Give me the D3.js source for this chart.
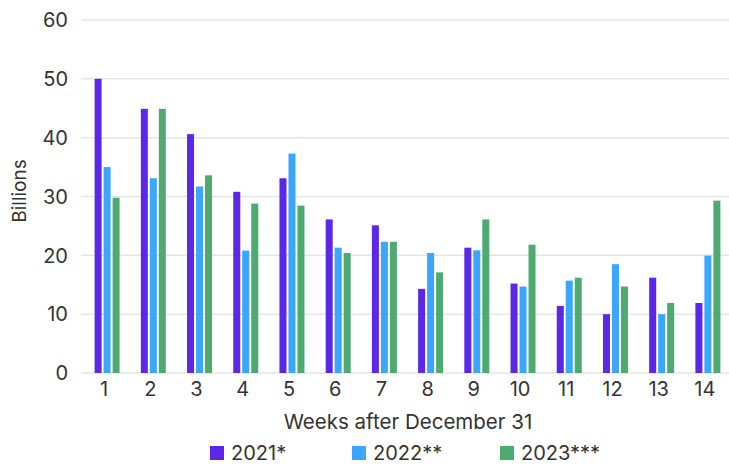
<!DOCTYPE html>
<html>
  <head>
    <title></title>
    <style>
      body, html{
        margin: 0;
        width: 100%;
        height: 100%;
        background: #fff;
      }
      text{
        font-family: Inter, Roboto, sans-serif;
        fill: #333;
      }
      .grid line{
        stroke: #e5e5e5;
        stroke-width: 1.5;
      }
    </style>
  </head>
  <body>
    <svg id="chart" width="729" height="464"></svg>
    <script src="https://cdn.jsdelivr.net/npm/d3@7"></script>
    <script>

var weeks = ['1','2','3','4','5','6','7','8','9','10','11','12','13','14']
var seriesNames = ['2021*', '2022**', '2023***']
var v2021 = [50, 44.9, 40.6, 30.8, 33.1, 26.1, 25.1, 14.3, 21.3, 15.2, 11.4, 10.0, 16.2, 11.9]
var v2022 = [35.0, 33.1, 31.7, 20.8, 37.3, 21.3, 22.3, 20.4, 20.85, 14.7, 15.7, 18.5, 10.0, 19.95]
var v2023 = [29.8, 44.9, 33.6, 28.8, 28.45, 20.4, 22.3, 17.1, 26.1, 21.8, 16.2, 14.7, 11.9, 29.3]
var yTicks = [0, 10, 20, 30, 40, 50, 60]
var colors = ['#5a28e6', '#3ba7fc', '#4dab71']

var series = [v2021, v2022, v2023]
var svg = d3.select('#chart')
var width = 729, height = 464
var plotLeft = 81, plotRight = 728, plotTop = 20, plotBottom = 373

var x = d3.scaleBand().domain(weeks).range([plotLeft, plotRight]).padding(0)
var x1 = d3.scaleBand().domain(d3.range(3)).range([-9.5, 15.5]).paddingInner(0.22)
var y = d3.scaleLinear().domain([0, 60]).range([plotBottom, plotTop])

// grid
svg.append('g').attr('class', 'grid')
  .selectAll('line').data(yTicks).enter().append('line')
  .attr('x1', plotLeft).attr('x2', width)
  .attr('y1', function(d){ return y(d) }).attr('y2', function(d){ return y(d) })

// y labels
svg.append('g').selectAll('text').data(yTicks).enter().append('text')
  .attr('x', 68).attr('y', function(d){ return y(d) })
  .attr('dy', '0.36em').attr('text-anchor', 'end')
  .style('font-size', '20px')
  .text(function(d){ return d })

// bars
var groups = svg.append('g').selectAll('g').data(weeks).enter().append('g')
  .attr('transform', function(d){ return 'translate(' + (x(d) + x.bandwidth() / 2) + ',0)' })
groups.selectAll('rect').data(function(d, i){
    return series.map(function(s, j){ return {k: j, v: s[i]} })
  }).enter().append('rect')
  .attr('x', function(d){ return x1(d.k) })
  .attr('width', x1.bandwidth())
  .attr('y', function(d){ return y(d.v) })
  .attr('height', function(d){ return y(0) - y(d.v) })
  .attr('fill', function(d){ return colors[d.k] })

// x labels
svg.append('g').selectAll('text').data(weeks).enter().append('text')
  .attr('x', function(d){ return x(d) + x.bandwidth() / 2 })
  .attr('y', 396).attr('text-anchor', 'middle')
  .style('font-size', '20px')
  .text(function(d){ return d })

// axis titles
svg.append('text')
  .attr('x', 408).attr('y', 429).attr('text-anchor', 'middle')
  .style('font-size', '20.5px')
  .text('Weeks after December 31')
svg.append('text')
  .attr('transform', 'translate(26,191) rotate(-90)')
  .attr('text-anchor', 'middle')
  .style('font-size', '19px')
  .text('Billions')

// legend
var legendX = [210, 352, 500]
var legend = svg.append('g').selectAll('g').data(seriesNames).enter().append('g')
  .attr('transform', function(d, i){ return 'translate(' + legendX[i] + ',446)' })
legend.append('rect').attr('width', 14).attr('height', 14)
  .attr('fill', function(d, i){ return colors[i] })
legend.append('text').attr('x', 21).attr('y', 14)
  .style('font-size', '20px')
  .text(function(d){ return d })
    </script>
  </body>
</html>
